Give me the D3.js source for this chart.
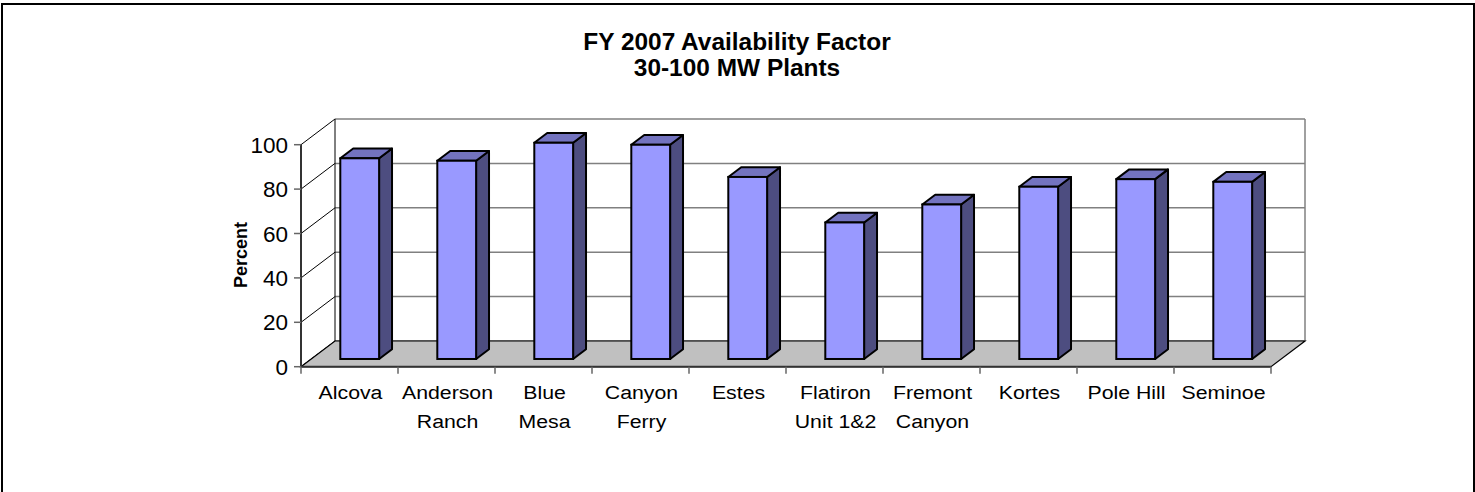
<!DOCTYPE html>
<html><head><meta charset="utf-8">
<script src="https://cdn.jsdelivr.net/npm/d3@7"></script>
<style>body{margin:0;background:#fff}svg{display:block;font-family:"Liberation Sans",Arial,sans-serif}</style>
</head><body><svg id="c" width="1475" height="492"></svg>
<script>
const categories = [["Alcova"],["Anderson","Ranch"],["Blue","Mesa"],["Canyon","Ferry"],["Estes"],["Flatiron","Unit 1&2"],["Fremont","Canyon"],["Kortes"],["Pole Hill"],["Seminoe"]];
const values = [90.4, 89.3, 97.4, 96.5, 82, 61.5, 69.6, 77.6, 81, 79.8];
const yTicks = [0, 20, 40, 60, 80, 100];
const titleLines = ["FY 2007 Availability Factor", "30-100 MW Plants"];
const yTitle = "Percent";

const svg = d3.select("#c");
const names = categories.map(c => c.join(" "));
const x = d3.scaleBand().domain(names).range([301, 1271]).paddingInner(0).paddingOuter(0);
const y = d3.scaleLinear().domain([0, 100]).range([366.7, 144.7]);
const DX = 34, DY = -25.7;
const f1 = 0.3, f2 = 0.68;
const bw = x.bandwidth() / 2.5;

// outer border
svg.append("rect").attr("x", 2).attr("y", 4).attr("width", 1472).attr("height", 492)
  .attr("fill", "none").attr("stroke", "#000").attr("stroke-width", 2);

// back wall gridlines
const g = svg.append("g");
g.selectAll("line.grid").data(yTicks).join("line")
  .attr("x1", 301 + DX).attr("x2", 1271 + DX)
  .attr("y1", d => y(d) + DY).attr("y2", d => y(d) + DY)
  .attr("stroke", "#808080").attr("stroke-width", 1.5);
// back wall verticals
[301 + DX, 1271 + DX].forEach((xx, i) => {
  g.append("line").attr("x1", xx).attr("x2", xx).attr("y1", y(0) + DY).attr("y2", y(100) + DY)
    .attr("stroke", i === 0 ? "#000" : "#808080").attr("stroke-width", i === 0 ? 1 : 1.5);
});
// side wall diagonals
g.selectAll("line.diag").data(yTicks).join("line")
  .attr("x1", 301).attr("x2", 301 + DX)
  .attr("y1", d => y(d)).attr("y2", d => y(d) + DY)
  .attr("stroke", "#000").attr("stroke-width", 1);

// floor
g.append("polygon")
  .attr("points", [[301, y(0)], [1271, y(0)], [1271 + DX, y(0) + DY], [301 + DX, y(0) + DY]].map(p => p.join(",")).join(" "))
  .attr("fill", "#C0C0C0").attr("stroke", "#000").attr("stroke-width", 1.2);

// y axis line & ticks
g.append("line").attr("x1", 301).attr("x2", 301).attr("y1", y(0)).attr("y2", y(100))
  .attr("stroke", "#333").attr("stroke-width", 2);
g.selectAll("line.yt").data(yTicks).join("line")
  .attr("x1", 294).attr("x2", 301).attr("y1", d => y(d)).attr("y2", d => y(d))
  .attr("stroke", "#666").attr("stroke-width", 1.5);
g.selectAll("text.yl").data(yTicks).join("text")
  .attr("x", 288).attr("y", d => y(d)).attr("dy", "0.36em")
  .attr("text-anchor", "end").attr("font-size", 22.5).attr("fill", "#000").text(d => d);

// x axis line & ticks
g.append("line").attr("x1", 301).attr("x2", 1271).attr("y1", y(0)).attr("y2", y(0))
  .attr("stroke", "#333").attr("stroke-width", 2);
const bounds = names.map(n => x(n)).concat([x(names[names.length - 1]) + x.bandwidth()]);
g.selectAll("line.xt").data(bounds).join("line")
  .attr("x1", d => d).attr("x2", d => d).attr("y1", y(0)).attr("y2", y(0) + 7)
  .attr("stroke", "#666").attr("stroke-width", 1.5);

// bars
const bars = g.selectAll("g.bar").data(values.map((v, i) => ({v, n: names[i]}))).join("g");
bars.each(function(d) {
  const s = d3.select(this);
  const cx = x(d.n) + x.bandwidth() / 2;
  const xl = cx - bw / 2 + f1 * DX, xr = xl + bw;
  const yb = y(0) + f1 * DY, yt = y(d.v) + f1 * DY;
  const ddx = (f2 - f1) * DX, ddy = (f2 - f1) * DY;
  const pts = a => a.map(p => p.join(",")).join(" ");
  s.append("polygon").attr("points", pts([[xr, yb], [xr + ddx, yb + ddy], [xr + ddx, yt + ddy], [xr, yt]]))
    .attr("fill", "#4D4D80").attr("stroke", "#000").attr("stroke-width", 2).attr("stroke-linejoin", "round");
  s.append("polygon").attr("points", pts([[xl, yt], [xr, yt], [xr + ddx, yt + ddy], [xl + ddx, yt + ddy]]))
    .attr("fill", "#7373BF").attr("stroke", "#000").attr("stroke-width", 2).attr("stroke-linejoin", "round");
  s.append("rect").attr("x", xl).attr("y", yt).attr("width", bw).attr("height", yb - yt)
    .attr("fill", "#9999FF").attr("stroke", "#000").attr("stroke-width", 2);
});

// category labels
categories.forEach((lines, i) => {
  const cx = x(names[i]) + x.bandwidth() / 2;
  lines.forEach((t, j) => {
    svg.append("text").attr("transform", `translate(${cx + 1},${399 + j * 29}) scale(1.12,1)`)
      .attr("text-anchor", "middle").attr("font-size", 19).attr("fill", "#000").text(t);
  });
});

// title
titleLines.forEach((t, j) => {
  svg.append("text").attr("transform", `translate(737,${50 + j * 26}) scale(1.04,1)`)
    .attr("text-anchor", "middle").attr("font-size", 23.5).attr("font-weight", "bold").text(t);
});

// y title
svg.append("text").attr("transform", "translate(247,255) rotate(-90)")
  .attr("text-anchor", "middle").attr("font-size", 18).attr("font-weight", "bold").text(yTitle);
</script></body></html>
